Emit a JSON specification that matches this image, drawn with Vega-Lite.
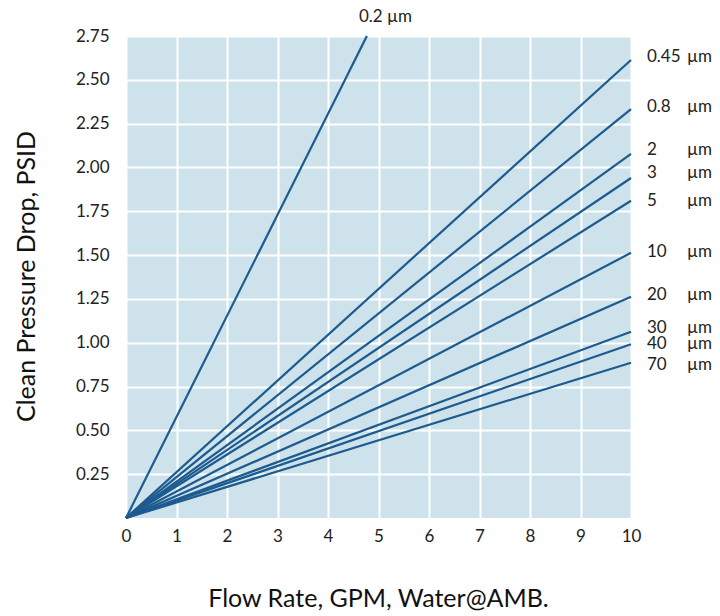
{
  "$schema": "https://vega.github.io/schema/vega-lite/v6.json",
  "width": 505,
  "height": 482,
  "autosize": {"type": "none"},
  "padding": {"left": 126, "top": 36, "right": 89, "bottom": 98},
  "background": "white",
  "config": {
    "view": {"fill": "#cde2ea", "stroke": null},
    "font": "Lato",
    "axis": {
      "gridColor": "white",
      "gridWidth": 2,
      "gridOpacity": 1,
      "domain": false,
      "ticks": false,
      "labelFlush": false,
      "labelFont": "Lato",
      "labelFontSize": 17,
      "labelColor": "#222",
      "titleFont": "Lato",
      "titleFontSize": 25,
      "titleFontWeight": "normal",
      "titleColor": "#111"
    }
  },
  "datasets": {
    "lines": [
      {"size": "0.2", "flow": 0, "psid": 0}, {"size": "0.2", "flow": 4.77, "psid": 2.75},
      {"size": "0.45", "flow": 0, "psid": 0}, {"size": "0.45", "flow": 10, "psid": 2.613},
      {"size": "0.8", "flow": 0, "psid": 0}, {"size": "0.8", "flow": 10, "psid": 2.333},
      {"size": "2", "flow": 0, "psid": 0}, {"size": "2", "flow": 10, "psid": 2.077},
      {"size": "3", "flow": 0, "psid": 0}, {"size": "3", "flow": 10, "psid": 1.94},
      {"size": "5", "flow": 0, "psid": 0}, {"size": "5", "flow": 10, "psid": 1.81},
      {"size": "10", "flow": 0, "psid": 0}, {"size": "10", "flow": 10, "psid": 1.513},
      {"size": "20", "flow": 0, "psid": 0}, {"size": "20", "flow": 10, "psid": 1.262},
      {"size": "30", "flow": 0, "psid": 0}, {"size": "30", "flow": 10, "psid": 1.063},
      {"size": "40", "flow": 0, "psid": 0}, {"size": "40", "flow": 10, "psid": 0.991},
      {"size": "70", "flow": 0, "psid": 0}, {"size": "70", "flow": 10, "psid": 0.886}
    ],
    "labels": [
      {"size": "0.45", "flow": 10, "psid": 2.63},
      {"size": "0.8", "flow": 10, "psid": 2.345},
      {"size": "2", "flow": 10, "psid": 2.1},
      {"size": "3", "flow": 10, "psid": 1.97},
      {"size": "5", "flow": 10, "psid": 1.81},
      {"size": "10", "flow": 10, "psid": 1.515},
      {"size": "20", "flow": 10, "psid": 1.27},
      {"size": "30", "flow": 10, "psid": 1.085},
      {"size": "40", "flow": 10, "psid": 0.99},
      {"size": "70", "flow": 10, "psid": 0.875}
    ],
    "top": [{"size": "0.2", "flow": 4.77, "psid": 2.75}]
  },
  "layer": [
    {
      "data": {"name": "lines"},
      "mark": {"type": "line", "color": "#1d5b8f", "strokeWidth": 2.2, "clip": false},
      "encoding": {
        "x": {"field": "flow", "type": "quantitative", "scale": {"domain": [0, 10], "nice": false},
          "axis": {"values": [0,1,2,3,4,5,6,7,8,9,10], "title": "Flow Rate, GPM, Water@AMB.", "labelPadding": 10, "titleX": 252, "titleY": 68, "grid": true}},
        "y": {"field": "psid", "type": "quantitative", "scale": {"domain": [0, 2.75], "nice": false},
          "axis": {"values": [0.25,0.5,0.75,1,1.25,1.5,1.75,2,2.25,2.5,2.75], "format": ".2f", "title": "Clean Pressure Drop, PSID", "labelPadding": 17, "titleX": -87, "titleY": 240, "grid": true}},
        "detail": {"field": "size"}
      }
    },
    {
      "data": {"name": "labels"},
      "mark": {"type": "text", "align": "left", "baseline": "middle", "dx": 16, "fontSize": 17, "color": "#222", "clip": false},
      "encoding": {
        "x": {"field": "flow", "type": "quantitative"},
        "y": {"field": "psid", "type": "quantitative"},
        "text": {"field": "size"}
      }
    },
    {
      "data": {"name": "labels"},
      "mark": {"type": "text", "align": "left", "baseline": "middle", "dx": 56, "fontSize": 17, "color": "#222", "clip": false},
      "encoding": {
        "x": {"field": "flow", "type": "quantitative"},
        "y": {"field": "psid", "type": "quantitative"},
        "text": {"value": "µm"}
      }
    },
    {
      "data": {"name": "top"},
      "mark": {"type": "text", "align": "left", "baseline": "middle", "dx": -8, "dy": -19, "fontSize": 17, "color": "#222", "clip": false},
      "encoding": {
        "x": {"field": "flow", "type": "quantitative"},
        "y": {"field": "psid", "type": "quantitative"},
        "text": {"value": "0.2 µm"}
      }
    }
  ]
}
